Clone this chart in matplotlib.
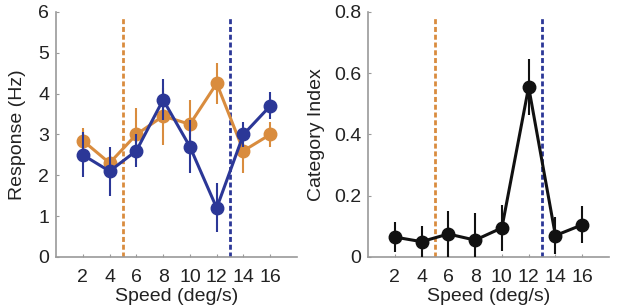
import matplotlib
matplotlib.use("Agg")
import matplotlib.pyplot as plt

plt.rcParams["font.family"] = ["Liberation Sans", "DejaVu Sans"]

speeds = [2, 4, 6, 8, 10, 12, 14, 16]
orange_resp = [2.85, 2.3, 3.0, 3.45, 3.25, 4.25, 2.6, 3.0]
orange_err = [0.3, 0.15, 0.65, 0.7, 0.6, 0.5, 0.55, 0.3]
blue_resp = [2.5, 2.1, 2.6, 3.85, 2.7, 1.2, 3.0, 3.7]
blue_err = [0.55, 0.6, 0.4, 0.5, 0.65, 0.6, 0.3, 0.33]
cat_index = [0.065, 0.05, 0.075, 0.055, 0.095, 0.555, 0.07, 0.105]
cat_err = [0.05, 0.05, 0.075, 0.09, 0.075, 0.09, 0.06, 0.06]
boundary_orange = 5
boundary_blue = 13
xticks = [2, 4, 6, 8, 10, 12, 14, 16]

ORANGE = "#D98C3E"
BLUE = "#2B3797"
BLACK = "#111111"
SPINE = "#9a9a9a"
FS = 14
DASH = (0, (1.8, 1.0))

fig = plt.figure(figsize=(6.17, 3.07), dpi=100)
ax1 = fig.add_axes([0.0908, 0.163, 0.3906, 0.798])
ax2 = fig.add_axes([0.5964, 0.163, 0.3906, 0.798])

def style(ax, ylim, yticks, ylabel, yfmt, ylpad):
    ax.set_xlim(0, 18)
    ax.set_ylim(*ylim)
    ax.set_xticks(xticks)
    ax.set_xticklabels([str(t) for t in xticks])
    ax.set_yticks(yticks)
    ax.set_yticklabels([yfmt(v) for v in yticks])
    for s in ["top", "right"]:
        ax.spines[s].set_visible(False)
    for s in ["left", "bottom"]:
        ax.spines[s].set_color(SPINE)
        ax.spines[s].set_linewidth(1.2)
    ax.tick_params(direction="in", length=2, color=SPINE, labelsize=FS, labelcolor="#222222")
    ax.tick_params(axis="x", pad=9)
    ax.tick_params(axis="y", pad=5)
    ax.set_xlabel("Speed (deg/s)", fontsize=FS, color="#222222", labelpad=1)
    ax.set_ylabel(ylabel, fontsize=FS, color="#222222", labelpad=ylpad)

ax1.axvline(boundary_orange, ymax=0.985, color=ORANGE, linestyle=DASH, lw=2, zorder=1)
ax1.axvline(boundary_blue, ymax=0.985, color=BLUE, linestyle=DASH, lw=2, zorder=1)
ax1.errorbar(speeds, orange_resp, yerr=orange_err, color=ORANGE, marker="o",
             markersize=9, lw=2.2, elinewidth=1.5, capsize=0, zorder=2)
ax1.errorbar(speeds, blue_resp, yerr=blue_err, color=BLUE, marker="o",
             markersize=9, lw=2.2, elinewidth=1.5, capsize=0, zorder=3)
style(ax1, (0, 6), [0, 1, 2, 3, 4, 5, 6], "Response (Hz)", lambda v: f"{v:g}", 9)

ax2.axvline(boundary_orange, ymax=0.985, color=ORANGE, linestyle=DASH, lw=2, zorder=1)
ax2.axvline(boundary_blue, ymax=0.985, color=BLUE, linestyle=DASH, lw=2, zorder=1)
ax2.errorbar(speeds, cat_index, yerr=cat_err, color=BLACK, marker="o",
             markersize=9, lw=2.2, elinewidth=1.5, capsize=0, zorder=3)
style(ax2, (0, 0.8), [0, 0.2, 0.4, 0.6, 0.8], "Category Index", lambda v: f"{v:g}", 6)

fig.savefig("out.png", dpi=100)
